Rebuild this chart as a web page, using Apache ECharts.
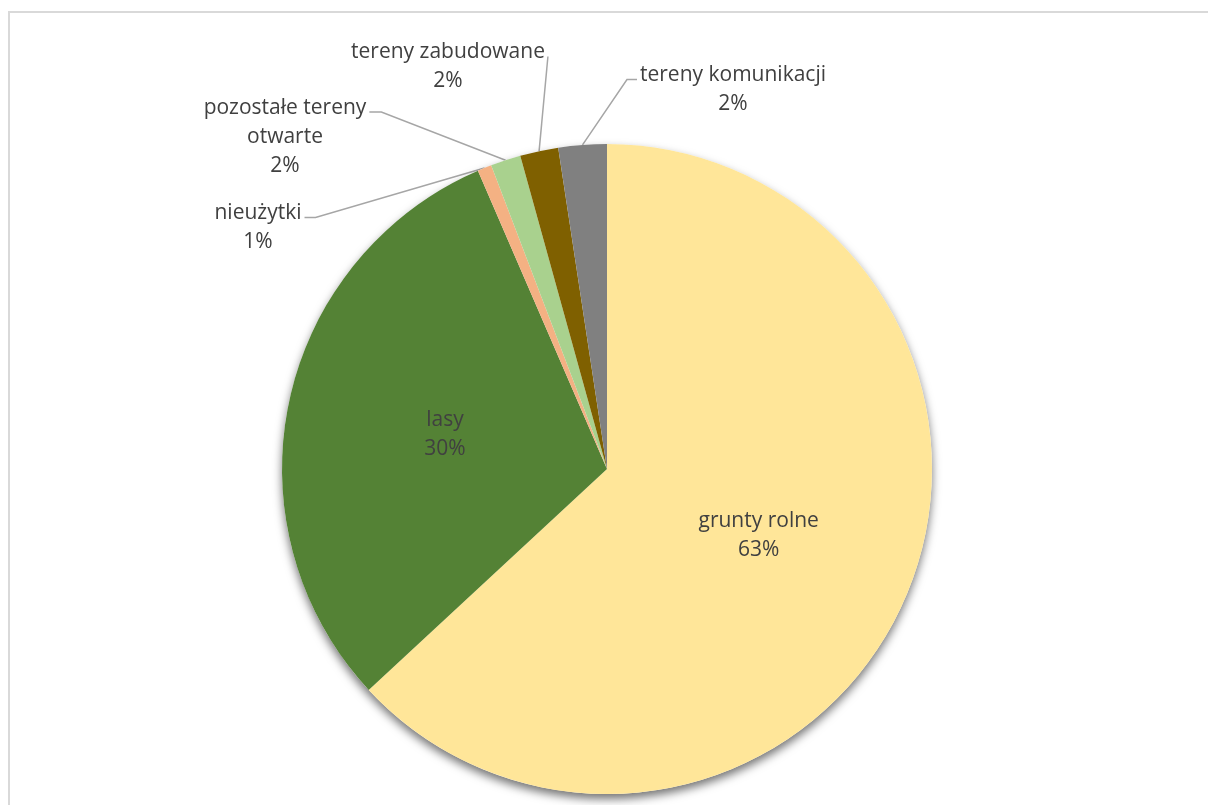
<!DOCTYPE html>
<html>
<head>
<meta charset="utf-8">
<script src="https://cdn.jsdelivr.net/npm/echarts@6/dist/echarts.min.js"></script>
<style>
html,body{margin:0;padding:0;background:#fff;overflow:hidden;width:1208px;height:805px}
#frame{position:absolute;left:8px;top:11px;width:1400px;height:1000px;border:2px solid #d9d9d9;box-sizing:border-box}
#chart{position:absolute;left:0;top:0;width:1208px;height:805px}
</style>
</head>
<body>
<div id="frame"></div>
<div id="chart"></div>
<script>
// ---- data ----
const categories = ['grunty rolne', 'lasy', 'nieużytki', 'pozostałe tereny otwarte', 'tereny zabudowane', 'tereny komunikacji'];
const values = [63.1, 30.4, 0.7, 1.5, 1.9, 2.4];

// ---- styling / layout ----
const sliceColors = ['#FFE699', '#548235', '#F4B183', '#A9D18E', '#7F6000', '#808080'];
const LH = 29;
const FONT = 21;
const outsideLabelPos = {
  2: {x: 258, y: 228, side: 'right', seg: 11},
  3: {x: 285, y: 137, side: 'right', seg: 12},
  4: {x: 448, y: 67, side: 'right', seg: 0},
  5: {x: 733, y: 90, side: 'left', seg: 10}
};
const CENTER = [607, 469];
const RADIUS = 325;

function wrapName(n) {
  if (n.length <= 18) return n;
  const i = n.lastIndexOf(' ', 18);
  return i > 0 ? n.slice(0, i) + '\n' + n.slice(i + 1) : n;
}

const pieData = categories.map((c, i) => {
  const inside = i < 2;
  return {
    name: c,
    value: values[i],
    itemStyle: {color: sliceColors[i]},
    label: {position: inside ? 'inside' : 'outside'},
    labelLine: {show: !inside}
  };
});

const chart = echarts.init(document.getElementById('chart'), null, {renderer: 'canvas'});
chart.setOption({
  animation: false,
  backgroundColor: 'transparent',
  series: [
    {
      type: 'pie',
      silent: true,
      center: CENTER,
      radius: RADIUS,
      label: {show: false},
      labelLine: {show: false},
      itemStyle: {color: '#ffffff', shadowBlur: 10, shadowOffsetY: 5, shadowOffsetX: 0, shadowColor: 'rgba(0,0,0,0.55)'},
      data: [{name: 'bg', value: 1}]
    },
    {
      type: 'pie',
      center: CENTER,
      radius: RADIUS,
      startAngle: 90,
      clockwise: true,
      avoidLabelOverlap: false,
      itemStyle: {borderWidth: 0},
      label: {
        show: true,
        color: '#404040',
        fontFamily: 'Open Sans',
        fontSize: FONT,
        lineHeight: LH,
        align: 'center',
        formatter: p => wrapName(p.name) + '\n' + Math.round(p.percent) + '%'
      },
      labelLine: {
        show: true,
        lineStyle: {color: '#a6a6a6', width: 1.5}
      },
      labelLayout: function (p) {
        const pos = outsideLabelPos[p.dataIndex];
        if (!pos || p.seriesIndex !== 1) return {};
        const w = p.labelRect.width, h = p.labelRect.height;
        const lineY = pos.y - h / 2 + LH / 2 + 4;
        const start = (p.labelLinePoints && p.labelLinePoints[0]) ? p.labelLinePoints[0] : [p.rect.x + p.rect.width / 2, p.rect.y + p.rect.height / 2];
        const endX = pos.side === 'right' ? pos.x + w / 2 + 3 : pos.x - w / 2 - 3;
        const elbowX = pos.side === 'right' ? endX + pos.seg : endX - pos.seg;
        return {
          x: pos.x, y: pos.y, align: 'center', verticalAlign: 'middle',
          labelLinePoints: [start, [elbowX, lineY], [endX, lineY]]
        };
      },
      data: pieData
    }
  ]
});
</script>
</body>
</html>
